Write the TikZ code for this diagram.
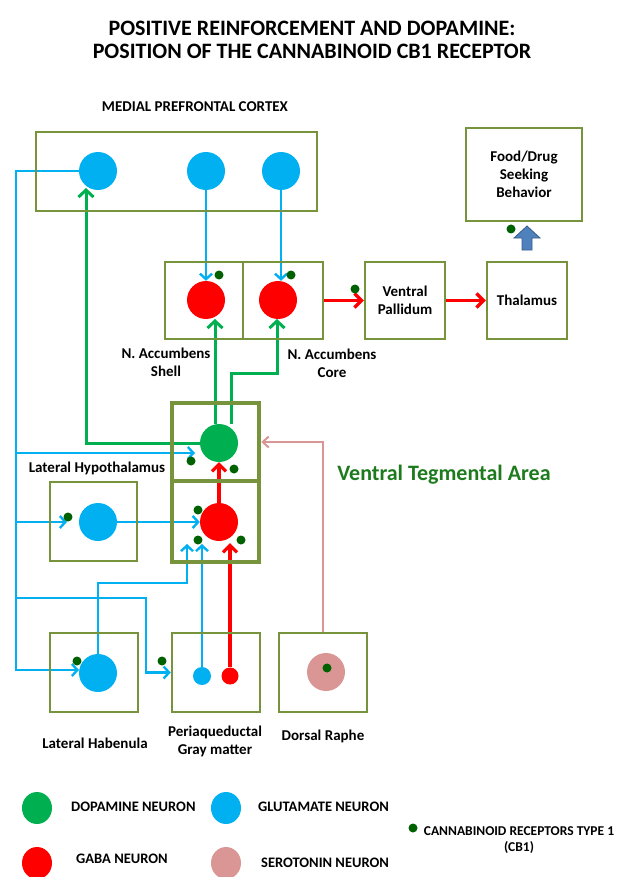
\documentclass[tikz,border=0pt]{standalone}
\usepackage{fontspec}
\setmainfont{Carlito}
\usetikzlibrary{arrows.meta,shapes.geometric,backgrounds,calc}
\definecolor{boxc}{HTML}{77933C}
\definecolor{blu}{HTML}{00B0F0}
\definecolor{redc}{HTML}{FF0000}
\definecolor{grn}{HTML}{00B050}
\definecolor{pinkc}{HTML}{D99694}
\definecolor{cbc}{HTML}{006100}
\definecolor{vtac}{HTML}{1D7A1D}
\definecolor{arrblue}{HTML}{4F81BD}
\definecolor{arrdark}{HTML}{385D8A}
\begin{document}
\begin{tikzpicture}[x=1pt,y=-1pt,
  box/.style={draw=boxc,line width=2.5pt,inner sep=0pt},
  vbox/.style={draw=boxc,line width=4.5pt,inner sep=0pt},
  neuron/.style={circle,inner sep=0pt,minimum size=38pt},
  cb/.style={circle,fill=cbc,inner sep=0pt,minimum size=9pt},
  lbl/.style={font=\fontsize{15}{18}\selectfont\bfseries,align=center},
  ttl/.style={font=\fontsize{22}{23}\selectfont\bfseries,align=center},
  leg/.style={font=\fontsize{14.5}{16}\selectfont\bfseries,inner sep=0pt},
  legcb/.style={font=\fontsize{13.5}{16}\selectfont\bfseries,inner sep=0pt},
  legdot/.style={ellipse,inner sep=0pt,minimum width=30pt,minimum height=32pt},
  bline/.style={draw=blu,line width=2.4pt},
  barr/.style={bline,-{Straight Barb[length=5.5pt,width=12pt]}},
  garr/.style={draw=grn,line width=3pt,-{Straight Barb[length=7pt,width=15pt]}},
  rarr/.style={draw=redc,line width=3.2pt,-{Straight Barb[length=7pt,width=14pt]}},
  parr/.style={draw=pinkc,line width=2pt,-{Straight Barb[length=6pt,width=11pt]}}]
\useasboundingbox (0,0) rectangle (616,877);

% title
\node[ttl] (title) at (312,39.5) {POSITIVE REINFORCEMENT AND DOPAMINE:\\POSITION OF THE CANNABINOID CB1 RECEPTOR};

% medial prefrontal cortex
\node[lbl] (lmpc) at (195,107) {MEDIAL PREFRONTAL CORTEX};
\node[box,minimum width=281pt,minimum height=79pt] (mpc) at (176.5,171.5) {};
\node[neuron,fill=blu] (m1) at (98,171) {};
\node[neuron,fill=blu] (m2) at (206,171) {};
\node[neuron,fill=blu] (m3) at (281,171) {};

% nucleus accumbens
\node[box,minimum width=78pt,minimum height=77pt] (shellbox) at (204,300.5) {};
\node[box,minimum width=80pt,minimum height=77pt] (corebox) at (283,300.5) {};
\node[neuron,fill=redc] (shell) at (206,300) {};
\node[neuron,fill=redc] (core) at (278,300) {};
\node[cb] (cbs) at (219,275) {};
\node[cb] (cbc) at (291,275) {};
\node[lbl] (lshell) at (166,362) {N. Accumbens\\Shell};
\node[lbl] (lcore) at (332,363) {N. Accumbens\\Core};

% pallidum, thalamus, behaviour
\node[box,lbl,minimum width=80pt,minimum height=77pt] (vp) at (405,300.5) {Ventral\\Pallidum};
\node[cb] (cbvp) at (355,289) {};
\node[box,lbl,minimum width=80pt,minimum height=77pt] (thal) at (527,300.5) {Thalamus};
\node[box,lbl,minimum width=116pt,minimum height=93pt] (food) at (524,174.5) {Food/Drug\\Seeking\\Behavior};
\fill[fill=arrblue,draw=arrdark,line width=0.8pt] (522,250) -- (522,238) -- (514,238) -- (527,226) -- (540,238) -- (532,238) -- (532,250) -- cycle;
\node[cb] (cbfood) at (511,229) {};

% ventral tegmental area
\node[vbox,minimum width=87pt,minimum height=78pt] (vtaT) at (215.5,442) {};
\node[vbox,minimum width=87pt,minimum height=81pt] (vtaB) at (215.5,521.5) {};
\node[neuron,fill=grn] (da) at (219,443) {};
\node[neuron,fill=redc] (gaba) at (219,522) {};
\node[cb] (cbv1) at (191,461) {};
\node[cb] (cbv2) at (234,469) {};
\node[cb] (cbv3) at (198,510) {};
\node[cb] (cbv4) at (198,540) {};
\node[cb] (cbv5) at (241,540) {};
\node[font=\fontsize{22}{24}\selectfont\bfseries,text=vtac] (lvta) at (444,475) {Ventral Tegmental Area};

% lateral hypothalamus
\node[lbl] (llh) at (97,468) {Lateral Hypothalamus};
\node[box,minimum width=87pt,minimum height=79pt] (lhbox) at (93.5,521.5) {};
\node[neuron,fill=blu] (lh) at (98,522) {};
\node[cb] (cblh) at (68,517) {};

% bottom row
\node[box,minimum width=88pt,minimum height=79pt] (lhbbox) at (94,672.5) {};
\node[neuron,fill=blu] (lhb) at (98,673) {};
\node[cb] (cblhb) at (77,661) {};
\node[box,minimum width=88pt,minimum height=79pt] (pagbox) at (216,672.5) {};
\node[circle,fill=blu,inner sep=0pt,minimum size=18pt] (pagb) at (202,676) {};
\node[circle,fill=redc,inner sep=0pt,minimum size=17pt] (pagr) at (230,676) {};
\node[cb] (cbpag) at (162,661) {};
\node[box,minimum width=88pt,minimum height=79pt] (drbox) at (323,672.5) {};
\node[neuron,fill=pinkc] (dr) at (326,672) {};
\node[cb] (cbdr) at (327,668) {};
\node[lbl] (llhb) at (95,743) {Lateral Habenula};
\node[lbl] (lpag) at (215,741) {Periaqueductal\\Gray matter};
\node[lbl] (ldr) at (323,736) {Dorsal Raphe};

% connectors
\begin{scope}[on background layer]
\coordinate (L) at (16,171);
\coordinate (lhbIn) at (79,670);
\coordinate (daIn) at (195,453);
\coordinate (lhIn) at (67,522);
\coordinate (v1) at (187,544);
\coordinate (v2) at (202,544);
\coordinate (v3) at (230,543);
\coordinate (sIn) at (215,319);
\coordinate (cIn) at (277,319);
\coordinate (mIn) at (86,188);
\draw[barr] (m1.west) -- (L) |- (lhbIn);
\draw[barr] (L |- daIn) -- (daIn);
\draw[barr] (L |- lhIn) -- (lhIn);
\draw[barr] (16,598 -| L) -- (146,598) |- (pagbox.west);
\draw[barr] (lh.east) -- (gaba.west);
\draw[barr] (lhb.north) -- ++(0,-71) -| (v1);
\draw[barr] (pagb.north) -- (v2);
\draw[rarr] (pagr.north) -- (v3);
\draw[parr] (drbox.north) |- (vtaT.east);
\draw[rarr] (gaba.north) -- (da.south);
\draw[garr] (da.north -| sIn) -- (sIn);
\draw[garr] ([xshift=12pt]da.north) |- (cIn |- 0,373) -- (cIn);
\draw[garr] (da.west) -| (mIn);
\draw[barr] (m2.south) -- (m2.south |- shell.north);
\draw[barr] (m3.south) -- (m3.south |- core.north);
\draw[rarr] (corebox.east) -- (vp.west);
\draw[rarr] (vp.east) -- (thal.west);
\end{scope}

% legend
\node[legdot,fill=grn] (lgda) at (37,808) {};
\node[leg,anchor=west] (tda) at (71,807) {DOPAMINE NEURON};
\node[legdot,fill=blu] (lgglu) at (226,808) {};
\node[leg,anchor=west] (tglu) at (258,807) {GLUTAMATE NEURON};
\node[legdot,fill=redc] (lggaba) at (37,863) {};
\node[leg,anchor=west] (tgaba) at (76,859) {GABA NEURON};
\node[legdot,fill=pinkc] (lgsht) at (226,863) {};
\node[leg,anchor=west] (tsht) at (261,863) {SEROTONIN NEURON};
\node[cb] (lgcb) at (413,828) {};
\node[legcb,align=center] (tcb) at (519,840) {CANNABINOID RECEPTORS TYPE 1\\(CB1)};
\end{tikzpicture}
\end{document}
